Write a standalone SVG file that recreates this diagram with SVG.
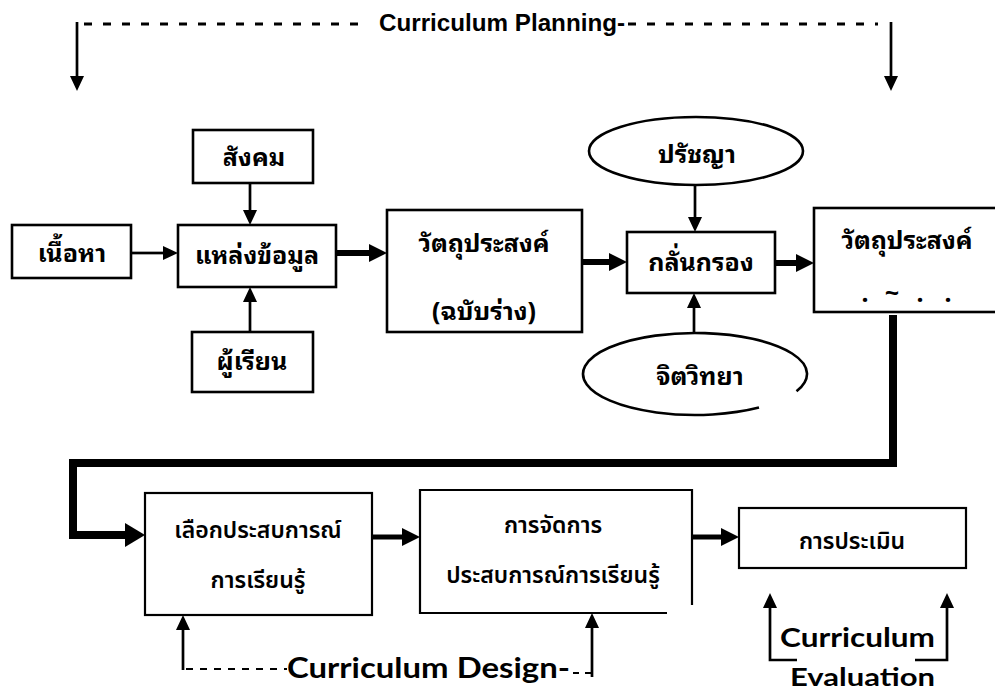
<svg xmlns="http://www.w3.org/2000/svg" width="995" height="694" viewBox="0 0 995 694">
<defs>
<marker id="ah" markerUnits="userSpaceOnUse" markerWidth="15" markerHeight="14" refX="0" refY="7" orient="auto"><path d="M0,0 L15,7 L0,14 z" fill="#000"/></marker>
<marker id="ahT" markerUnits="userSpaceOnUse" markerWidth="18" markerHeight="18" refX="0" refY="9" orient="auto"><path d="M0,0 L18,9 L0,18 z" fill="#000"/></marker>
<marker id="ahB" markerUnits="userSpaceOnUse" markerWidth="20" markerHeight="24" refX="0" refY="12" orient="auto"><path d="M0,0 L20,12 L0,24 z" fill="#000"/></marker>
</defs>
<style>
.box{fill:#fff;stroke:#000;stroke-width:2.6}
.box2{fill:#fff;stroke:#000;stroke-width:2.2}
.thin{fill:none;stroke:#000;stroke-width:2.7;marker-end:url(#ah)}
.thick{fill:none;stroke:#000;stroke-width:6;marker-end:url(#ahT)}
.dash{fill:none;stroke:#000;stroke-width:3;stroke-dasharray:8 11}
.th{font-family:"Noto Sans Thai Looped","Noto Serif Thai","Noto Sans Thai","Noto Sans",sans-serif;font-weight:bold;font-size:25px;text-anchor:middle;fill:#000}
.tl{font-family:"Noto Sans Thai","Noto Sans",sans-serif;font-weight:600;font-size:23px;text-anchor:middle;fill:#000}
.en{font-family:Lato,"Open Sans",sans-serif;font-weight:bold;fill:#000}
.ar{font-family:"Liberation Sans",Arial,sans-serif;font-weight:bold;fill:#000}
</style>
<rect width="995" height="694" fill="#fff"/>

<g id="connectors">
<path class="dash" d="M84,24 H364"/>
<path class="dash" d="M628,24 H878"/>
<path class="thin" d="M77,22 V76"/>
<path class="thin" d="M891,22 V76"/>
<path class="thin" d="M131,253 H163"/>
<path class="thin" d="M250,183 V210"/>
<path class="thin" d="M250,332 V302"/>
<path class="thick" d="M336,253 H369"/>
<path class="thick" d="M582,262 H609"/>
<path class="thin" d="M695,185 V217"/>
<path class="thin" d="M694,333 V308"/>
<path class="thick" d="M775,263 H796"/>
<path d="M893,315 V463 H73 V535 H125" fill="none" stroke="#000" stroke-width="8" stroke-linejoin="miter" marker-end="url(#ahB)"/>
<path class="thick" d="M372,537 H402" style="stroke-width:5"/>
<path class="thick" d="M692,537 H721" style="stroke-width:5"/>
<path class="thin" d="M183,670 V630"/>
<path class="thin" d="M592,677 V628"/>
<path class="dash" d="M186,669 H287" style="stroke-width:2;stroke-dasharray:7 7"/>
<path class="dash" d="M573,673 H592" style="stroke-width:2;stroke-dasharray:6 6"/>
<path class="thin" d="M797,660 H770 V608"/>
<path class="thin" d="M915,660 H947 V608"/>
</g>

<g id="label-planning"><text class="ar" x="379" y="31" font-size="23" textLength="246" lengthAdjust="spacingAndGlyphs">Curriculum Planning-</text></g>

<g id="n-content"><rect class="box" x="12" y="225" width="119" height="53"/><text class="th" x="72" y="262">เนื้อหา</text></g>
<g id="n-source"><rect class="box" x="178" y="225" width="158" height="62"/><text class="th" x="257" y="264">แหล่งข้อมูล</text></g>
<g id="n-society"><rect class="box" x="193" y="130" width="120" height="53"/><text class="th" x="254" y="166">สังคม</text></g>
<g id="n-learner"><rect class="box" x="192" y="332" width="121" height="60"/><text class="th" x="252" y="370">ผู้เรียน</text></g>
<g id="n-draft"><rect class="box" x="387" y="210" width="195" height="122"/><text class="th" x="484" y="252">วัตถุประสงค์</text><text class="th" x="484" y="320">(ฉบับร่าง)</text></g>
<g id="n-screen"><rect class="box" x="627" y="232" width="148" height="61"/><text class="th" x="701" y="271">กลั่นกรอง</text></g>
<g id="n-philosophy"><ellipse cx="696" cy="151" rx="107" ry="34" fill="#fff" stroke="#000" stroke-width="2.6"/><text class="th" x="697" y="163">ปรัชญา</text></g>
<g id="n-psychology"><path d="M759,407.6 A112,41 0 1 1 796.5,391.3" fill="#fff" stroke="#000" stroke-width="2.6"/><text class="th" x="700" y="385">จิตวิทยา</text></g>
<g id="n-objective"><rect class="box" x="814" y="208" width="200" height="104"/><text class="th" x="907" y="249">วัตถุประสงค์</text><text class="th" x="865 892 920 948" y="302" font-size="16">.~..</text></g>
<g id="n-select"><rect class="box2" x="145" y="493" width="227" height="122"/><text class="tl" x="258" y="538">เลือกประสบการณ์</text><text class="tl" x="258" y="588">การเรียนรู้</text></g>
<g id="n-organize"><path d="M667,613 H420 V490 H692 V605" fill="#fff" stroke="#000" stroke-width="2.2"/><text class="tl" x="553" y="533">การจัดการ</text><text class="tl" x="553" y="583">ประสบการณ์การเรียนรู้</text></g>
<g id="n-evaluate"><rect class="box2" x="739" y="508" width="227" height="60"/><text class="tl" x="852" y="549">การประเมิน</text></g>

<g id="label-design"><text class="en" x="287" y="678" font-size="29" textLength="283" lengthAdjust="spacingAndGlyphs">Curriculum Design-</text></g>
<g id="label-evaluation"><text class="en" x="780" y="647" font-size="26" textLength="155" lengthAdjust="spacingAndGlyphs">Curriculum</text><text class="en" x="790" y="686" font-size="25" textLength="145" lengthAdjust="spacingAndGlyphs">Evaluation</text></g>
</svg>
